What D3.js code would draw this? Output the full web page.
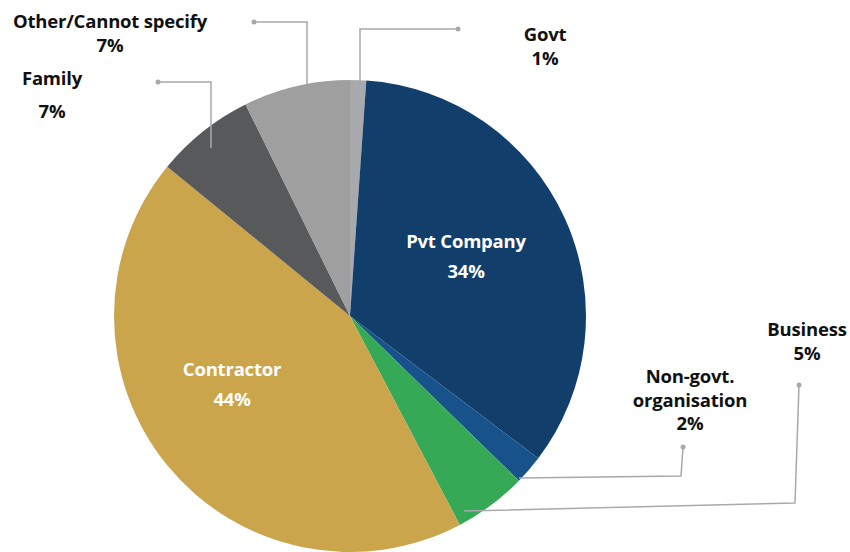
<!DOCTYPE html>
<html>
<head>
<meta charset="utf-8">
<script src="https://cdn.jsdelivr.net/npm/d3@7"></script>
<style>
  html, body { margin: 0; padding: 0; background: #fff; }
  svg { display: block; }
</style>
</head>
<body>
<svg id="chart" width="850" height="552"></svg>
<script>
// clockwise from 12 o'clock
const categories = ['Govt', 'Pvt Company', 'Non-govt. organisation', 'Business', 'Contractor', 'Family', 'Other/Cannot specify'];
const shares = [1.1, 34.2, 2.0, 5.0, 43.6, 6.8, 7.3];
const shareLabels = ['1%', '34%', '2%', '5%', '44%', '7%', '7%'];

const colors = ['#a7a9ac', '#123e6b', '#17538a', '#36a957', '#cba54c', '#58595b', '#9f9f9f'];

// label placement: inside = white text on the slice, else outside with a leader
const labelLayout = [
  { lines: ['Govt'], x: 545, y: 41, gap: 24, leader: [[458, 29], [360, 29], [360, 84]] },
  { lines: ['Pvt Company'], x: 466, y: 248, gap: 30, inside: true },
  { lines: ['Non-govt.', 'organisation'], x: 690, y: 383, gap: 23.5, leader: [[683, 447], [681, 476], [519, 478]] },
  { lines: ['Business'], x: 807, y: 336, gap: 24, leader: [[799, 385], [795, 503], [464, 511]] },
  { lines: ['Contractor'], x: 232, y: 376, gap: 30, inside: true },
  { lines: ['Family'], x: 52, y: 85, gap: 33, leader: [[158, 82], [211, 82], [211, 148]] },
  { lines: ['Other/Cannot specify'], x: 110, y: 28, gap: 24, leader: [[254, 22], [307, 22], [307, 84]] }
];

const svg = d3.select('#chart');
const cx = 350, cy = 316, radius = 236;

const pie = d3.pie().sort(null).value(d => d)(shares);
const arc = d3.arc().innerRadius(0).outerRadius(radius);
const color = d3.scaleOrdinal().domain(categories).range(colors);

const g = svg.append('g').attr('transform', `translate(${cx},${cy})`);
g.selectAll('path.slice')
  .data(pie)
  .join('path')
  .attr('class', 'slice')
  .attr('d', arc)
  .attr('fill', (d, i) => color(categories[i]));

// leaders
const line = d3.line();
const leaders = svg.append('g')
  .attr('fill', 'none')
  .attr('stroke', '#a7a9ac')
  .attr('stroke-width', 1.5);
labelLayout.forEach(l => {
  if (!l.leader) return;
  leaders.append('path').attr('d', line(l.leader));
  leaders.append('circle')
    .attr('cx', l.leader[0][0]).attr('cy', l.leader[0][1])
    .attr('r', 2.5).attr('fill', '#a7a9ac').attr('stroke', 'none');
});

// text
const labels = svg.append('g')
  .attr('font-family', '"Open Sans", "Noto Sans", sans-serif')
  .attr('font-weight', 700)
  .attr('font-size', 18.5)
  .attr('letter-spacing', -0.2)
  .attr('text-anchor', 'middle');
labelLayout.forEach((l, i) => {
  const t = labels.append('text')
    .attr('fill', l.inside ? '#ffffff' : '#111111');
  const all = l.lines.concat([shareLabels[i]]);
  all.forEach((s, k) => {
    t.append('tspan')
      .attr('x', l.x)
      .attr('y', l.y + k * l.gap)
      .text(s);
  });
});
</script>
</body>
</html>
